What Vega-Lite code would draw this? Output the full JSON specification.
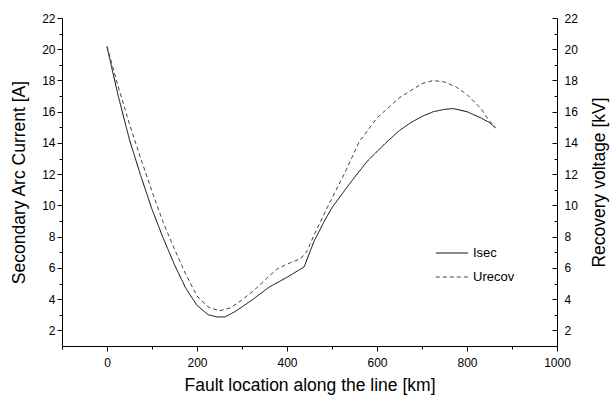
{
  "$schema": "https://vega.github.io/schema/vega-lite/v6.json",
  "width": 495,
  "height": 328,
  "autosize": "none",
  "padding": {"left": 62, "top": 18, "right": 56, "bottom": 51},
  "background": "white",
  "config": {
    "view": {"stroke": null},
    "font": "Liberation Sans",
    "axis": {
      "grid": false,
      "domainColor": "black",
      "domainWidth": 1,
      "tickColor": "black",
      "tickWidth": 1,
      "labelColor": "black",
      "labelFont": "Liberation Sans",
      "labelFontSize": 12,
      "titleFont": "Liberation Sans",
      "titleFontSize": 17.5,
      "titleFontWeight": "normal",
      "titleColor": "black"
    }
  },
  "data": {
    "values": [
      {"x": 0, "series": "Isec", "value": 20.15},
      {"x": 25, "series": "Isec", "value": 17.0},
      {"x": 50, "series": "Isec", "value": 14.2},
      {"x": 75, "series": "Isec", "value": 11.9},
      {"x": 100, "series": "Isec", "value": 9.75},
      {"x": 125, "series": "Isec", "value": 7.9},
      {"x": 150, "series": "Isec", "value": 6.2},
      {"x": 175, "series": "Isec", "value": 4.7},
      {"x": 200, "series": "Isec", "value": 3.6},
      {"x": 225, "series": "Isec", "value": 3.0},
      {"x": 245, "series": "Isec", "value": 2.86},
      {"x": 262, "series": "Isec", "value": 2.86},
      {"x": 283, "series": "Isec", "value": 3.18},
      {"x": 300, "series": "Isec", "value": 3.5},
      {"x": 325, "series": "Isec", "value": 4.0},
      {"x": 350, "series": "Isec", "value": 4.55},
      {"x": 361, "series": "Isec", "value": 4.78},
      {"x": 400, "series": "Isec", "value": 5.4},
      {"x": 438, "series": "Isec", "value": 6.06},
      {"x": 460, "series": "Isec", "value": 7.7},
      {"x": 483, "series": "Isec", "value": 9.0},
      {"x": 500, "series": "Isec", "value": 9.85},
      {"x": 520, "series": "Isec", "value": 10.65},
      {"x": 550, "series": "Isec", "value": 11.8},
      {"x": 579, "series": "Isec", "value": 12.85},
      {"x": 600, "series": "Isec", "value": 13.45},
      {"x": 625, "series": "Isec", "value": 14.15},
      {"x": 650, "series": "Isec", "value": 14.8},
      {"x": 675, "series": "Isec", "value": 15.3},
      {"x": 700, "series": "Isec", "value": 15.7},
      {"x": 725, "series": "Isec", "value": 16.0},
      {"x": 750, "series": "Isec", "value": 16.15},
      {"x": 770, "series": "Isec", "value": 16.2},
      {"x": 800, "series": "Isec", "value": 16.0},
      {"x": 831, "series": "Isec", "value": 15.6},
      {"x": 850, "series": "Isec", "value": 15.3},
      {"x": 863, "series": "Isec", "value": 14.97},
      {"x": 0, "series": "Urecov", "value": 20.2},
      {"x": 25, "series": "Urecov", "value": 17.6},
      {"x": 50, "series": "Urecov", "value": 15.2},
      {"x": 75, "series": "Urecov", "value": 13.0},
      {"x": 100, "series": "Urecov", "value": 10.9},
      {"x": 125, "series": "Urecov", "value": 8.9},
      {"x": 150, "series": "Urecov", "value": 7.2},
      {"x": 175, "series": "Urecov", "value": 5.6},
      {"x": 200, "series": "Urecov", "value": 4.2},
      {"x": 225, "series": "Urecov", "value": 3.5},
      {"x": 250, "series": "Urecov", "value": 3.25},
      {"x": 275, "series": "Urecov", "value": 3.45},
      {"x": 300, "series": "Urecov", "value": 3.95},
      {"x": 327, "series": "Urecov", "value": 4.57},
      {"x": 350, "series": "Urecov", "value": 5.2},
      {"x": 379, "series": "Urecov", "value": 5.95},
      {"x": 405, "series": "Urecov", "value": 6.3},
      {"x": 431, "series": "Urecov", "value": 6.6},
      {"x": 445, "series": "Urecov", "value": 7.1},
      {"x": 460, "series": "Urecov", "value": 8.1},
      {"x": 490, "series": "Urecov", "value": 9.9},
      {"x": 527, "series": "Urecov", "value": 12.0},
      {"x": 561, "series": "Urecov", "value": 14.1},
      {"x": 600, "series": "Urecov", "value": 15.6},
      {"x": 650, "series": "Urecov", "value": 16.9},
      {"x": 700, "series": "Urecov", "value": 17.8},
      {"x": 725, "series": "Urecov", "value": 18.0},
      {"x": 750, "series": "Urecov", "value": 17.9},
      {"x": 775, "series": "Urecov", "value": 17.6},
      {"x": 800, "series": "Urecov", "value": 17.1},
      {"x": 831, "series": "Urecov", "value": 16.2},
      {"x": 846, "series": "Urecov", "value": 15.55},
      {"x": 863, "series": "Urecov", "value": 14.97}
    ]
  },
  "layer": [
    {
      "mark": {"type": "line", "strokeWidth": 1},
      "encoding": {
        "x": {
          "field": "x",
          "type": "quantitative",
          "scale": {"domain": [-100, 1000], "nice": false, "zero": false},
          "axis": {
            "title": "Fault location along the line [km]",
            "format": "d",
            "values": [-100, 0, 100, 200, 300, 400, 500, 600, 700, 800, 900, 1000],
            "labelExpr": "datum.value % 200 === 0 ? datum.label : ''",
            "tickSize": {"condition": {"test": "datum.value % 200 === 0", "value": 5}, "value": 3},
            "labelPadding": 6,
            "titlePadding": 8,
            "labelFlush": false,
            "labelOverlap": false
          }
        },
        "y": {
          "field": "value",
          "type": "quantitative",
          "scale": {"domain": [1, 22], "nice": false, "zero": false},
          "axis": {
            "orient": "left",
            "title": "Secondary Arc Current [A]",
            "values": [2, 3, 4, 5, 6, 7, 8, 9, 10, 11, 12, 13, 14, 15, 16, 17, 18, 19, 20, 21, 22],
            "labelExpr": "datum.value % 2 === 0 ? datum.label : ''",
            "tickSize": {"condition": {"test": "datum.value % 2 === 0", "value": 5}, "value": 3},
            "labelPadding": 2,
            "titlePadding": 13,
            "labelFlush": false,
            "labelOverlap": false
          }
        },
        "color": {
          "field": "series",
          "type": "nominal",
          "scale": {"domain": ["Isec", "Urecov"], "range": ["#000000", "#444444"]},
          "legend": {
            "title": null,
            "orient": "none",
            "legendX": 373,
            "legendY": 218,
            "symbolType": "stroke",
            "symbolSize": 1050,
            "symbolStrokeWidth": 1,
            "labelFontSize": 13,
            "labelColor": "black",
            "labelOffset": 4,
            "rowPadding": -10
          }
        },
        "strokeDash": {
          "field": "series",
          "type": "nominal",
          "scale": {"domain": ["Isec", "Urecov"], "range": [[1, 0], [4, 3]]},
          "legend": {
            "title": null,
            "orient": "none",
            "legendX": 373,
            "legendY": 218,
            "symbolType": "stroke",
            "symbolSize": 1050,
            "symbolStrokeWidth": 1,
            "labelFontSize": 13,
            "labelColor": "black",
            "labelOffset": 4,
            "rowPadding": -10
          }
        }
      }
    },
    {
      "mark": {"type": "point", "opacity": 0},
      "encoding": {
        "x": {"field": "x", "type": "quantitative"},
        "y": {
          "field": "value",
          "type": "quantitative",
          "scale": {"domain": [1, 22], "nice": false, "zero": false},
          "axis": {
            "orient": "right",
            "title": "Recovery voltage [kV]",
            "titleAngle": 270,
            "values": [2, 3, 4, 5, 6, 7, 8, 9, 10, 11, 12, 13, 14, 15, 16, 17, 18, 19, 20, 21, 22],
            "labelExpr": "datum.value % 2 === 0 ? datum.label : ''",
            "tickSize": {"condition": {"test": "datum.value % 2 === 0", "value": -5}, "value": -3},
            "labelPadding": 12,
            "titlePadding": 31,
            "labelFlush": false,
            "labelOverlap": false
          }
        }
      }
    }
  ],
  "resolve": {"scale": {"y": "independent"}}
}
